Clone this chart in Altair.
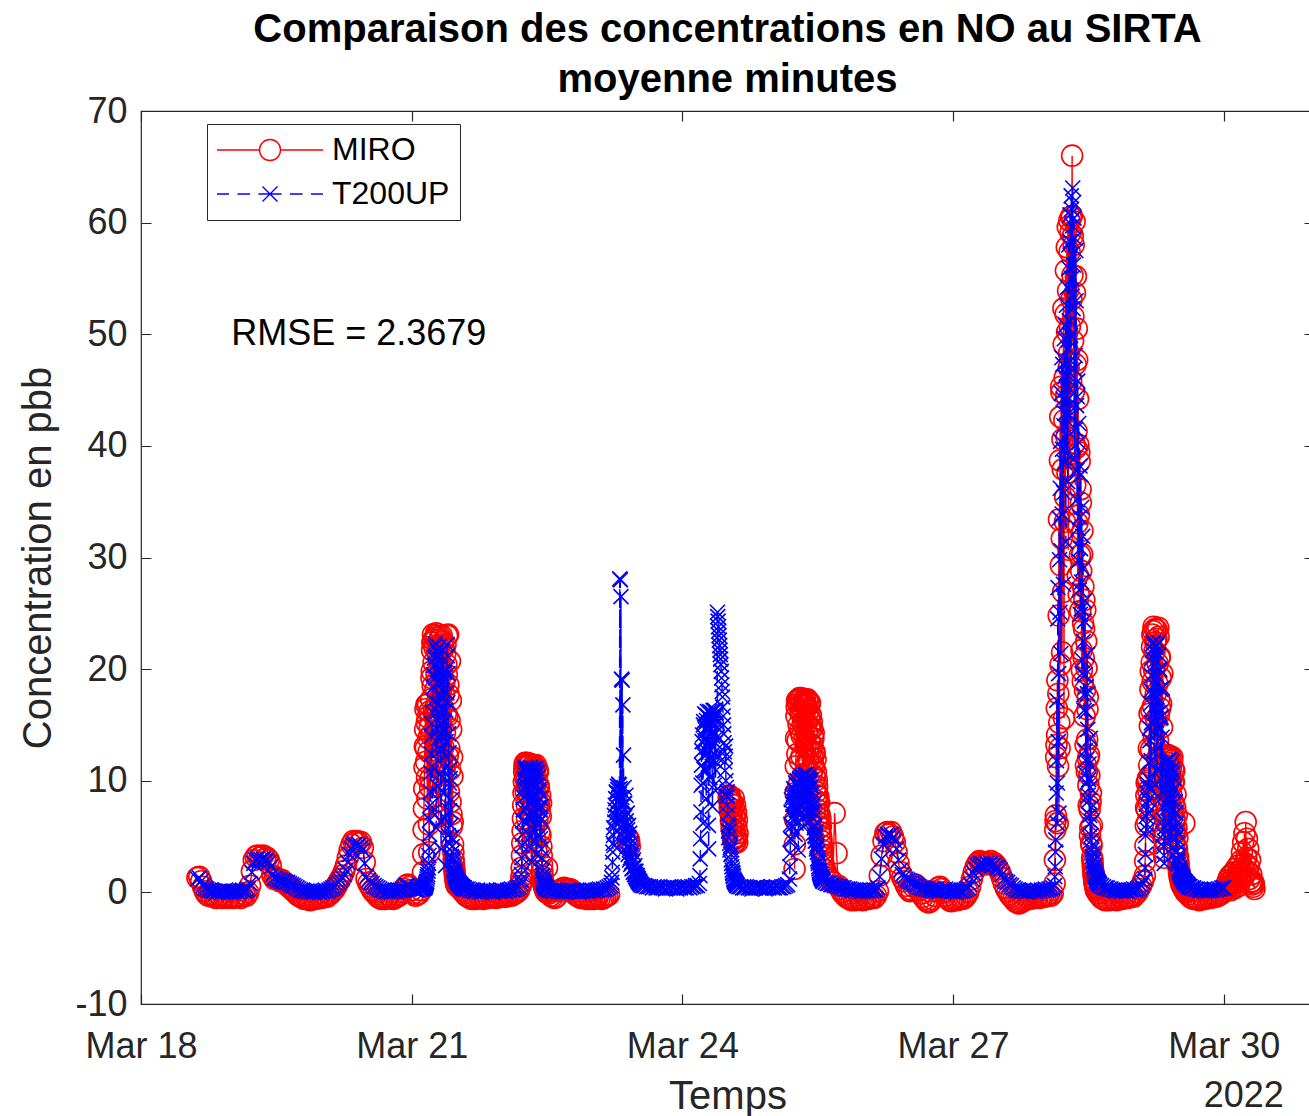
import altair as alt
import pandas as pd

FONT = "Liberation Sans"
GREY = "#262626"
RED = "#FF0000"
BLUE = "#0000FF"

# ---------------------------------------------------------------------------
# T200UP analyser, NO in ppb.  Each block: regular sampling from its start time.
# ---------------------------------------------------------------------------
T200UP_A = [  # from 2022-03-18 15:00, every 30 min
    1.2, 1.3, 1.0, 0.6, 0.4, 0.3,
    0.2, 0.2, 0.1, 0.1, 0.0, 0.1, 0.1, 0.0, 0.1, 0.2,
    0.1, 0.1, 0.0, 0.1, 0.1, 0.1, 0.0, 0.1, 0.2, 0.1,
    0.2, 0.3, 0.8, 1.8, 2.6, 2.9, 3.0, 2.8, 2.9, 3.0,
    2.8, 2.9, 2.7, 2.3, 1.6, 1.3, 1.2, 1.1, 1.1, 1.0,
    1.0, 0.9, 0.9, 0.8, 0.7, 0.6, 0.5, 0.4, 0.3, 0.2,
    0.2, 0.1, 0.1, 0.0, 0.1, 0.0, 0.0, 0.1, 0.1, 0.0,
    0.1, 0.1, 0.2, 0.1, 0.2, 0.3, 0.4, 0.5, 0.7, 0.9,
    1.1, 1.3, 1.6, 2.0, 2.7, 3.4, 3.9, 4.2, 4.3, 4.1,
    4.3, 4.0, 3.8, 2.6, 1.4, 1.1, 0.9, 0.8, 0.6, 0.5,
    0.4, 0.3, 0.2, 0.2, 0.1, 0.1, 0.1, 0.0, 0.1, 0.1,
    0.1, 0.2, 0.2, 0.3, 0.4, 0.6, 0.6, 0.5, 0.4, 0.3,
    0.2, 0.2, 0.3, 0.3,
]
T200UP_MAR21 = [  # from 2022-03-21 03:00, every 10 min
    0.3, 0.4, 0.5, 0.4, 0.6, 0.8,
    1.0, 1.4, 1.9, 2.6, 4.0, 6.5,
    9.0, 12.4, 15.1, 7.2, 17.2, 19.5,
    21.0, 22.3, 20.4, 5.8, 21.6, 16.2,
    13.8, 19.0, 22.0, 17.5, 10.6, 3.9,
    12.8, 16.4, 20.8, 18.9, 15.3, 6.7,
    2.4, 13.5, 17.9, 21.2, 19.6, 14.2,
    9.8, 4.4, 11.1, 8.3, 4.9, 3.6,
    2.8, 2.2, 1.9, 1.6, 1.4, 1.2,
    1.1, 1.0, 0.9, 0.8, 0.8, 0.7,
    0.6, 0.6, 0.5, 0.5, 0.4, 0.4,
]
T200UP_MAR21_B = [  # from 2022-03-21 03:05, every 10 min
    0.4, 0.4, 0.5, 0.5, 0.7, 0.9,
    1.2, 1.6, 2.2, 3.3, 5.2, 7.8,
    10.7, 14.0, 11.3, 16.1, 18.4, 20.3,
    22.0, 19.2, 14.7, 21.1, 18.8, 9.5,
    16.9, 21.4, 20.1, 12.7, 6.4, 15.0,
    18.1, 21.7, 8.9, 14.4, 19.7, 11.2,
    16.3, 20.0, 22.2, 17.0, 5.1, 12.5,
    7.3, 10.2, 6.0, 3.2, 4.1, 3.0,
    2.5, 2.0, 1.8, 1.5, 1.3, 1.1,
    1.0, 1.0, 0.9, 0.8, 0.7, 0.7,
    0.6, 0.5, 0.5, 0.4, 0.4, 0.3,
]
T200UP_B = [  # from 2022-03-21 14:00, every 30 min
    0.4, 0.3, 0.3, 0.2, 0.2, 0.1, 0.1, 0.2, 0.1, 0.0,
    0.1, 0.1, 0.2, 0.1, 0.1, 0.0, 0.1, 0.2, 0.1, 0.1,
    0.2, 0.1, 0.1, 0.2, 0.2, 0.3, 0.2, 0.3, 0.4, 0.5,
]
T200UP_MAR22 = [  # from 2022-03-22 05:00, every 10 min
    0.8, 1.6, 3.1, 5.2, 7.4, 9.3,
    10.6, 11.2, 8.7, 10.1, 6.2, 10.9,
    9.4, 4.1, 11.0, 8.1, 10.5, 7.0,
    2.7, 9.9, 11.1, 5.6, 10.3, 8.8,
    10.8, 3.4, 9.6, 10.7, 7.6, 9.0,
    5.1, 8.4, 6.5, 3.9, 2.3, 1.5,
    1.0, 0.8, 0.6, 0.5, 0.4, 0.3,
]
T200UP_MAR22_B = [  # from 2022-03-22 05:05, every 10 min
    1.1, 2.3, 4.2, 6.4, 8.5, 10.2,
    11.0, 9.6, 10.8, 7.5, 11.1, 8.9,
    10.4, 6.7, 9.8, 11.2, 5.0, 10.0,
    8.3, 11.0, 7.2, 10.6, 4.6, 9.5,
    11.1, 8.0, 6.1, 10.3, 9.2, 7.4,
    6.8, 4.8, 7.7, 3.1, 1.9, 1.2,
    0.9, 0.7, 0.5, 0.5, 0.4, 0.3,
]
T200UP_C = [  # from 2022-03-22 12:00, every 30 min
    0.3, 0.2, 0.2, 0.1, 0.1, 0.2, 0.1, 0.1, 0.0, 0.1,
    0.1, 0.2, 0.1, 0.1, 0.2, 0.1, 0.1, 0.0, 0.1, 0.1,
    0.2, 0.1, 0.1, 0.2, 0.2, 0.1, 0.2, 0.2, 0.3, 0.2,
    0.3, 0.3, 0.4, 0.5, 0.6,
]
T200UP_MAR23 = [  # from 2022-03-23 05:10, every 10 min
    0.9, 1.8, 3.6, 5.1, 4.2, 6.3,
    7.8, 5.5, 8.9, 6.8, 9.2, 7.5,
    9.6, 28.1, 28.0, 26.5, 19.1, 19.0,
    16.8, 12.3, 9.4, 8.0, 6.1, 8.7,
    5.2, 7.1, 4.6, 6.0, 3.8, 5.3,
    3.1, 4.4, 2.7, 3.6, 2.2, 2.9,
    1.9, 2.4, 1.6, 1.9, 1.3, 1.5,
    1.1, 1.2, 0.9, 1.0, 0.8, 0.7,
]
T200UP_MAR23_B = [  # from 2022-03-23 05:15, every 10 min
    1.3, 2.7, 4.4, 5.8, 6.9, 7.4,
    8.4, 9.0, 6.3, 9.5, 8.2, 9.7,
    8.8, 9.3, 7.0, 9.1, 8.5, 7.7,
    6.6, 7.9, 5.6, 6.9, 4.8, 6.4,
    4.1, 5.6, 3.4, 4.9, 2.9, 4.0,
    2.5, 3.3, 2.1, 2.7, 1.8, 2.2,
    1.6, 1.8, 1.4, 1.5, 1.2, 1.3,
    1.0, 1.0, 0.9, 0.8, 0.7, 0.7,
]
T200UP_D = [  # from 2022-03-23 13:30, every 30 min
    0.6, 0.6, 0.5, 0.5, 0.5, 0.4, 0.5, 0.4, 0.4, 0.5,
    0.4, 0.4, 0.3, 0.4, 0.4, 0.5, 0.4, 0.4, 0.3, 0.4,
    0.4, 0.5, 0.4, 0.4, 0.5, 0.4, 0.5, 0.5, 0.6, 0.6,
    0.8,
]
T200UP_MAR24 = [  # from 2022-03-24 04:40, every 10 min
    1.5, 4.8, 9.6, 12.7, 14.1, 6.2,
    15.3, 11.0, 13.6, 15.9, 8.4, 14.8,
    16.2, 12.5, 3.9, 15.6, 10.3, 16.0,
    13.2, 15.1, 7.7, 16.3, 14.4, 11.8,
    15.7, 9.1, 16.1, 13.9, 25.1, 24.3,
    23.4, 22.6, 21.7, 20.9, 19.8, 18.6,
    17.5, 15.8, 14.2, 12.6, 10.9, 13.1,
    9.4, 7.8, 8.6, 6.1, 4.9, 5.5,
    3.8, 4.2, 2.9, 2.3, 1.8, 1.5,
    1.2, 1.0, 0.9, 0.8, 0.7, 0.6,
]
T200UP_MAR24_B = [  # from 2022-03-24 04:45, every 10 min
    3.0, 7.2, 11.4, 13.5, 9.8, 15.0,
    12.3, 16.0, 14.6, 10.9, 15.4, 13.0,
    15.8, 6.0, 14.9, 16.2, 12.0, 15.5,
    16.1, 11.3, 14.0, 15.7, 9.6, 16.3,
    13.4, 16.0, 12.2, 15.2, 24.7, 23.8,
    23.0, 22.1, 21.3, 20.4, 19.2, 18.0,
    16.6, 15.0, 13.4, 11.7, 12.2, 10.0,
    8.6, 9.0, 7.0, 5.5, 5.9, 4.4,
    4.0, 3.4, 2.6, 2.0, 1.7, 1.4,
    1.1, 1.0, 0.9, 0.8, 0.7, 0.6,
]
T200UP_E = [  # from 2022-03-24 15:00, every 30 min
    0.5, 0.5, 0.4, 0.4, 0.5, 0.4, 0.4, 0.3, 0.4, 0.4,
    0.5, 0.4, 0.4, 0.4, 0.3, 0.4, 0.4, 0.5, 0.4, 0.4,
    0.5, 0.4, 0.4, 0.5, 0.5, 0.6, 0.7,
]
T200UP_MAR25 = [  # from 2022-03-25 04:30, every 10 min
    1.2, 3.5, 6.1, 8.3, 4.7, 7.9,
    8.8, 6.6, 9.1, 5.2, 8.5, 9.6,
    7.3, 9.9, 3.8, 8.9, 10.1, 6.9,
    9.4, 10.3, 7.8, 10.4, 5.9, 9.8,
    10.5, 8.2, 10.2, 10.6, 7.1, 10.3,
    9.3, 10.4, 6.4, 10.1, 8.7, 9.5,
    7.7, 8.9, 5.3, 7.2, 6.0, 4.6,
    5.4, 3.9, 4.3, 3.0, 2.6, 2.1,
    1.8, 1.6, 1.4, 1.3, 1.2, 1.1,
]
T200UP_MAR25_B = [  # from 2022-03-25 04:35, every 10 min
    2.3, 4.8, 7.2, 5.9, 8.6, 6.8,
    9.3, 7.9, 8.2, 9.8, 6.2, 9.0,
    10.0, 8.1, 9.6, 7.4, 10.2, 9.2,
    8.4, 10.4, 9.9, 6.6, 10.3, 8.6,
    9.7, 10.5, 7.5, 9.4, 10.1, 8.9,
    10.2, 7.0, 9.8, 8.0, 10.0, 7.3,
    8.3, 6.6, 7.9, 5.8, 5.1, 5.0,
    4.6, 4.1, 3.6, 2.8, 2.3, 1.9,
    1.7, 1.5, 1.3, 1.2, 1.1, 1.0,
]
T200UP_F = [  # from 2022-03-25 13:30, every 30 min
    1.0, 0.9, 0.8, 0.8, 0.7, 0.7, 0.6, 0.6, 0.5, 0.5,
    0.4, 0.4, 0.3, 0.3, 0.3, 0.2, 0.2, 0.2, 0.1, 0.2,
    0.1, 0.1, 0.2, 0.1, 0.1, 0.2, 0.1, 0.2, 0.2, 0.4,
    1.4, 3.0, 4.3, 5.0, 5.2, 5.1, 5.2, 4.9, 4.6, 3.9,
    2.9, 2.0, 1.6, 1.4, 1.2, 1.1, 1.0, 0.9, 0.8, 0.7,
    0.6, 0.5, 0.4, 0.4, 0.3, 0.3, 0.2, 0.2, 0.2, 0.1,
    0.2, 0.1, 0.1, 0.2, 0.2, 0.3, 0.2, 0.2, 0.1, 0.1,
    0.1, 0.0, 0.1, 0.1, 0.1, 0.2, 0.3, 0.4, 0.7, 1.2,
    1.7, 2.1, 2.4, 2.5, 2.6, 2.5, 2.4, 2.6, 2.5, 2.6,
    2.4, 2.5, 2.3, 2.2, 2.0, 1.6, 1.2, 1.0, 0.9, 0.7,
    0.6, 0.4, 0.3, 0.2, 0.2, 0.1, 0.1, 0.1, 0.0, 0.1,
    0.1, 0.2, 0.1, 0.1, 0.2, 0.1, 0.2, 0.2, 0.3, 0.2,
    0.3, 0.3, 0.4,
]
T200UP_MAR28 = [  # from 2022-03-28 03:00, every 10 min
    0.6, 2.3, 4.7, 11.8, 6.2, 24.5,
    13.5, 7.1, 29.8, 36.2, 21.4, 44.7,
    33.9, 47.3, 27.6, 41.8, 38.5, 46.2,
    31.4, 52.6, 44.1, 36.8, 49.5, 55.9,
    42.7, 58.3, 47.6, 61.2, 53.4, 63.1,
    56.2, 60.4, 38.9, 48.1, 57.5, 43.6,
    35.2, 45.8, 29.7, 40.3, 33.6, 24.9,
    37.4, 27.8, 19.6, 31.9, 22.5, 16.3,
    26.1, 12.7, 18.4, 9.8, 21.3, 14.6,
    8.2, 11.5, 6.9, 13.8, 5.1, 7.6,
    4.2, 3.5, 2.9, 2.4, 2.0, 1.7,
    1.5, 1.3, 1.2, 1.0, 0.9, 0.8,
]
T200UP_MAR28_B = [  # from 2022-03-28 03:05, every 10 min
    1.4, 3.6, 8.9, 17.2, 9.8, 27.3,
    19.6, 33.5, 25.1, 40.4, 30.6, 47.9,
    39.7, 44.2, 35.8, 49.6, 42.9, 50.8,
    46.5, 39.3, 54.2, 48.7, 58.0, 51.2,
    60.7, 49.9, 62.4, 55.0, 59.7, 52.3,
    61.8, 46.9, 58.6, 41.5, 53.0, 37.8,
    44.4, 32.6, 42.0, 27.1, 38.2, 30.8,
    25.4, 34.5, 20.8, 29.0, 17.7, 24.3,
    19.5, 10.6, 16.2, 11.9, 17.8, 8.7,
    10.1, 6.1, 9.4, 4.6, 6.3, 3.8,
    3.2, 2.7, 2.2, 1.9, 1.6, 1.4,
    1.2, 1.1, 1.0, 0.9, 0.8, 0.7,
]
T200UP_G = [  # from 2022-03-28 15:00, every 30 min
    0.7, 0.6, 0.5, 0.4, 0.4, 0.3, 0.3, 0.2, 0.2, 0.1,
    0.2, 0.1, 0.1, 0.2, 0.1, 0.1, 0.2, 0.2, 0.3, 0.2,
    0.3, 0.4, 0.6, 0.9,
]
T200UP_MAR29 = [  # from 2022-03-29 03:00, every 10 min
    1.2, 3.4, 6.8, 8.9, 5.6, 9.4,
    7.2, 10.1, 13.6, 16.9, 11.8, 19.4,
    21.7, 15.3, 22.4, 18.6, 9.7, 20.8,
    14.2, 22.1, 17.5, 12.9, 21.3, 16.1,
    19.9, 8.4, 15.7, 11.2, 18.3, 6.5,
    4.1, 2.6, 5.8, 9.3, 11.6, 7.9,
    10.8, 11.9, 6.3, 9.9, 11.4, 8.6,
    10.5, 4.9, 11.7, 9.1, 7.4, 10.2,
    5.7, 8.1, 3.6, 6.2, 4.4, 2.8,
    3.3, 2.2, 1.9, 1.7, 1.5, 1.4,
    1.3, 1.2, 1.1, 1.0, 0.9, 0.9,
    0.8, 0.7, 0.7, 0.6, 0.5, 0.5,
]
T200UP_MAR29_B = [  # from 2022-03-29 03:05, every 10 min
    2.2, 5.1, 7.9, 6.1, 9.7, 8.3,
    11.6, 14.7, 9.3, 18.1, 15.2, 21.0,
    17.9, 22.3, 12.6, 20.4, 22.0, 16.8,
    21.5, 11.0, 19.3, 22.4, 14.8, 20.0,
    15.6, 18.2, 10.1, 13.9, 9.0, 5.2,
    3.3, 4.6, 7.4, 10.6, 9.0, 11.8,
    8.1, 11.2, 10.0, 7.5, 11.9, 9.6,
    8.2, 11.0, 6.8, 10.7, 9.3, 6.0,
    7.1, 4.9, 5.4, 3.7, 3.0, 2.5,
    2.0, 1.8, 1.6, 1.5, 1.4, 1.3,
    1.2, 1.1, 1.0, 1.0, 0.9, 0.8,
    0.8, 0.7, 0.6, 0.6, 0.5, 0.5,
]
T200UP_H = [  # from 2022-03-29 15:00, every 30 min
    0.5, 0.4, 0.4, 0.3, 0.3, 0.2, 0.2, 0.2, 0.1, 0.2,
    0.1, 0.2, 0.2, 0.3, 0.2, 0.3, 0.3, 0.4, 0.4,
]

# ---------------------------------------------------------------------------
# MIRO analyser, NO in ppb.
# ---------------------------------------------------------------------------
MIRO_A = [  # from 2022-03-18 15:00, every 30 min
    1.3, 1.4, 1.0, 0.5, 0.1, -0.2,
    -0.3, -0.2, -0.4, -0.3, -0.5, -0.4, -0.3, -0.5, -0.4, -0.3,
    -0.5, -0.4, -0.3, -0.5, -0.4, -0.3, -0.4, -0.5, -0.3, -0.2,
    -0.3, 0.0, 0.6, 1.9, 2.9, 3.2, 3.3, 3.1, 3.2, 3.3,
    3.0, 3.1, 2.9, 2.4, 1.5, 1.2, 1.3, 1.2, 1.0, 1.1,
    0.9, 0.8, 0.6, 0.5, 0.3, 0.2, 0.0, -0.2, -0.3, -0.4,
    -0.5, -0.6, -0.5, -0.6, -0.7, -0.6, -0.5, -0.6, -0.5, -0.4,
    -0.5, -0.4, -0.3, -0.4, -0.2, -0.1, 0.1, 0.3, 0.6, 0.9,
    1.2, 1.5, 1.9, 2.4, 3.1, 3.8, 4.3, 4.6, 4.5, 4.6,
    4.4, 4.5, 4.0, 2.7, 1.2, 0.8, 0.5, 0.2, 0.0, -0.2,
    -0.4, -0.5, -0.6, -0.5, -0.6, -0.5, -0.4, -0.5, -0.6, -0.5,
    -0.4, -0.3, -0.2, 0.0, 0.3, 0.6, 0.7, 0.5, 0.2, -0.1,
    -0.3, -0.2, -0.1, 0.2,
]
MIRO_MAR21 = [  # from 2022-03-21 03:00, every 10 min
    1.8, 5.6, 9.3, 13.1, 16.4, 11.7,
    15.2, 8.4, 16.9, 12.6, 3.6, 14.8,
    10.2, 17.3, 19.8, 22.4, 23.1, 20.6,
    15.9, 22.8, 18.2, 23.2, 13.4, 21.5,
    19.1, 6.8, 22.6, 17.4, 12.1, 20.3,
    23.0, 16.6, 9.7, 21.9, 18.8, 14.3,
    22.2, 11.6, 19.5, 15.8, 23.1, 17.7,
    12.9, 20.7, 8.1, 14.6, 5.9, 10.4,
    4.3, 2.9, 2.1, 1.5, 1.1, 0.8,
]
MIRO_MAR21_B = [  # from 2022-03-21 03:05, every 10 min
    3.4, 7.5, 11.2, 14.6, 12.9, 16.8,
    10.3, 15.7, 13.8, 6.1, 16.2, 9.4,
    14.1, 19.2, 21.7, 18.5, 22.6, 16.3,
    21.9, 12.4, 23.0, 19.6, 17.1, 22.1,
    8.2, 20.8, 15.3, 22.9, 18.0, 14.9,
    19.7, 22.5, 13.0, 17.8, 10.9, 21.3,
    16.0, 20.4, 23.0, 12.2, 18.6, 9.0,
    15.4, 11.0, 17.2, 7.0, 12.1, 6.3,
    3.6, 2.5, 1.8, 1.3, 0.9, 0.7,
]
MIRO_B = [  # from 2022-03-21 12:00, every 30 min
    0.6, 0.5, 0.3, 0.1, -0.1, -0.3, -0.4, -0.5, -0.6, -0.5,
    -0.6, -0.5, -0.4, -0.5, -0.6, -0.5, -0.4, -0.5, -0.4, -0.3,
    -0.4, -0.5, -0.4, -0.3, -0.4, -0.3, -0.4, -0.3, -0.2, -0.3,
    -0.2, -0.1, 0.0, 0.2,
]
MIRO_MAR22 = [  # from 2022-03-22 05:00, every 10 min
    0.6, 1.4, 3.3, 5.5, 7.8, 9.9,
    11.2, 11.6, 9.0, 10.5, 6.6, 11.3,
    9.8, 4.5, 11.5, 8.4, 10.9, 7.3,
    2.9, 10.2, 11.4, 5.9, 10.7, 9.1,
    11.2, 3.7, 9.9, 11.0, 7.9, 9.4,
    5.4, 8.7, 6.8, 4.1, 2.5, 1.4,
    0.9, 0.6, 0.4, 0.3, 0.1, 0.0,
]
MIRO_MAR22_B = [  # from 2022-03-22 05:05, every 10 min
    0.9, 2.2, 4.4, 6.6, 8.9, 10.8,
    11.5, 10.2, 11.4, 7.9, 11.6, 9.5,
    10.9, 7.1, 10.3, 11.5, 5.5, 10.6,
    8.8, 11.3, 7.7, 11.1, 4.9, 9.9,
    11.4, 8.4, 6.5, 10.8, 9.6, 7.8,
    7.2, 5.1, 8.0, 3.3, 1.9, 1.0,
    0.7, 0.5, 0.3, 0.2, 0.1, 0.0,
]
MIRO_C = [  # from 2022-03-22 12:00, every 30 min
    2.2, -0.1, -0.3, -0.4, -0.5, -0.4, 0.1, 0.2, 0.3, 0.4,
    0.3, 0.2, 0.3, 0.2, 0.0, -0.2, -0.3, -0.4, -0.5, -0.4,
    -0.5, -0.6, -0.5, -0.6, -0.5, -0.6, -0.5, -0.4, -0.5, -0.6,
    -0.5, -0.4, -0.3, -0.2,
]
MIRO_MAR23 = [4.4, 4.8, 4.6, 4.1]  # from 2022-03-23 09:30, every 10 min
MIRO_MAR24 = [  # from 2022-03-24 12:20, every 5 min
    8.5, 8.7, 8.2, 7.6, 8.6, 7.1,
    8.3, 6.4, 7.9, 5.8, 8.1, 6.9,
    5.2, 7.4, 4.7, 6.2, 8.4, 5.5,
    4.4, 6.7, 7.8, 5.0, 4.6, 7.2,
    5.9, 4.9, 6.5, 4.5, 5.3,
]
MIRO_MAR25 = [  # from 2022-03-25 05:50, every 10 min
    2.1,
    6.5, 11.3, 15.8, 17.2, 13.6, 16.9,
    9.7, 17.4, 14.5, 16.3, 12.2, 17.0,
    15.1, 8.3, 16.8, 13.9, 17.3, 11.4,
    16.5, 14.2, 17.1, 12.8, 15.6, 16.9,
    13.3, 15.9, 10.6, 14.7, 12.0, 13.8,
    11.2, 12.6, 9.4, 10.8, 8.2, 9.5,
    7.4, 8.6, 6.3, 7.0, 5.4, 5.9,
    4.6, 3.8, 3.1,
]
MIRO_MAR25_B = [  # from 2022-03-25 05:55, every 10 min
    4.3,
    8.9, 13.8, 16.6, 12.4, 17.1, 15.0,
    17.3, 11.8, 16.1, 17.4, 14.0, 16.4,
    10.5, 17.2, 15.4, 17.0, 13.1, 16.7,
    15.2, 17.3, 11.9, 16.3, 14.8, 17.0,
    14.6, 12.7, 15.3, 13.2, 11.5, 14.3,
    12.4, 10.3, 11.9, 9.0, 10.1, 8.7,
    7.9, 6.7, 8.0, 5.8, 6.6, 5.0,
    4.2, 3.4, 2.8,
]
MIRO_D = [  # from 2022-03-25 13:30, every 30 min
    2.5, 2.0, 1.6, 1.3, 1.1, 0.9, 7.1, 3.5, 0.6, 0.3,
    0.0, -0.2, -0.4, -0.5, -0.6, -0.7, -0.6, -0.7, -0.6, -0.5,
    -0.6, -0.7, -0.6, -0.5, -0.6, -0.5, -0.4, -0.5, -0.3, 0.1,
    1.5, 3.3, 4.6, 5.3, 5.4, 5.2, 5.4, 5.0, 4.5, 3.6,
    2.6, 1.8, 1.3, 1.0, 0.6, 0.3, 0.1, 0.2, 0.5, 0.7,
    0.5, 0.2, -0.1, -0.4, -0.6, -0.8, -0.9, -0.8, -0.6, -0.3,
    0.1, 0.4, 0.5, 0.3, 0.0, -0.3, -0.5, -0.7, -0.8, -0.7,
    -0.6, -0.7, -0.6, -0.5, -0.6, -0.5, -0.3, 0.0, 0.5, 1.2,
    1.8, 2.3, 2.6, 2.8, 2.7, 2.6, 2.5, 2.7, 2.6, 2.8,
    2.5, 2.6, 2.4, 2.1, 1.8, 1.3, 0.8, 0.4, 0.1, -0.2,
    -0.4, -0.6, -0.8, -0.9, -1.0, -0.9, -0.8, -0.7, -0.6, -0.5,
    -0.6, -0.5, -0.4, -0.5, -0.4, -0.5, -0.4, -0.3, -0.4, -0.3,
    -0.2, -0.3, -0.1,
]
MIRO_MAR28 = [  # from 2022-03-28 03:00, every 10 min
    0.8, 5.6, 6.9, 13.2, 14.1, 6.2,
    17.8, 33.4, 12.9, 42.6, 29.3, 44.8,
    21.5, 37.9, 52.3, 15.6, 46.1, 35.4,
    55.7, 40.8, 50.2, 59.6, 30.7, 48.3,
    57.4, 39.2, 60.5, 53.1, 66.0, 58.8,
    51.6, 44.9, 60.1, 36.5, 55.2, 41.3,
    47.7, 28.4, 40.1, 33.8, 38.6, 25.2,
    34.9, 21.7, 30.3, 18.9, 27.4, 23.6,
    15.8, 25.3, 11.4, 20.1, 13.7, 17.5,
    9.6, 12.3, 7.4, 5.8, 8.9, 4.2,
    3.1, 2.4, 1.7, 1.2, 0.8, 0.5,
]
MIRO_MAR28_B = [  # from 2022-03-28 03:05, every 10 min
    2.9, 6.4, 12.1, 16.5, 19.0, 11.3,
    24.8, 15.2, 38.7, 20.4, 45.3, 31.7,
    40.6, 26.9, 49.1, 42.3, 33.2, 51.8,
    44.5, 57.8, 37.6, 53.9, 47.0, 60.2,
    50.7, 59.1, 45.8, 60.6, 55.3, 49.4,
    58.0, 40.2, 53.7, 47.3, 39.8, 50.5,
    33.1, 44.2, 26.7, 39.4, 30.2, 36.1,
    28.8, 19.9, 32.4, 24.1, 21.0, 26.2,
    18.1, 13.2, 22.5, 10.8, 16.4, 12.0,
    7.8, 10.5, 5.1, 8.1, 4.4, 6.0,
    2.8, 2.0, 1.5, 1.0, 0.7, 0.4,
]
MIRO_E = [  # from 2022-03-28 14:00, every 30 min
    0.2, -0.1, -0.3, -0.5, -0.6, -0.7, -0.6, -0.7, -0.6, -0.5,
    -0.6, -0.7, -0.6, -0.5, -0.6, -0.5, -0.4, -0.5, -0.4, -0.3,
    -0.4, -0.2, 0.0, 0.3, 0.6, 1.0,
]
MIRO_MAR29 = [  # from 2022-03-29 03:00, every 10 min
    1.5, 4.2, 7.6, 9.8, 6.3, 10.2,
    8.1, 11.4, 14.9, 18.2, 12.8, 20.6,
    23.1, 16.7, 23.8, 19.9, 10.8, 22.4,
    15.5, 23.5, 18.7, 13.6, 22.9, 17.3,
    21.1, 9.2, 16.9, 12.4, 19.6, 7.3,
    4.8, 3.1, 6.6, 10.2, 12.2, 8.7,
    11.6, 12.3, 7.1, 10.7, 12.0, 9.4,
    11.3, 5.6, 12.1, 9.8, 8.0, 10.9,
    6.3, 8.8, 4.1, 6.9, 4.9, 3.2,
    2.6, 2.0, 1.6, 1.3, 1.0, 0.8,
    0.7, 0.5, 0.6, 6.2, 0.4, 0.2,
]
MIRO_MAR29_B = [  # from 2022-03-29 03:05, every 10 min
    2.8, 6.0, 8.7, 7.4, 10.0, 9.1,
    12.9, 16.0, 10.5, 19.8, 16.3, 22.0,
    18.9, 23.4, 13.9, 21.6, 23.6, 17.8,
    22.7, 12.0, 20.5, 23.7, 15.9, 21.0,
    16.5, 19.2, 11.0, 14.8, 9.9, 5.7,
    3.8, 5.2, 8.2, 11.4, 9.6, 12.3,
    8.9, 11.9, 10.6, 8.2, 12.2, 10.1,
    8.7, 11.8, 7.4, 11.1, 9.9, 6.6,
    7.6, 5.3, 5.8, 3.9, 3.1, 2.3,
    1.8, 1.4, 1.2, 0.9, 0.7, 0.6,
    0.5, 0.4, 0.3, 0.2, 0.1, 0.0,
]
MIRO_F = [  # from 2022-03-29 14:00, every 30 min
    0.0, -0.2, -0.4, -0.5, -0.6, -0.5, -0.6, -0.7, -0.6, -0.5,
    -0.6, -0.5, -0.4, -0.5, -0.4, -0.3, -0.4, -0.3, -0.2, -0.1,
    0.1, 0.3,
]
MIRO_MAR30 = [  # from 2022-03-30 00:40, every 10 min
    0.4, 0.8, 0.3, 1.1, 0.6, 1.4,
    0.9, 0.2, 1.6, 0.7, 1.2, 0.5,
    1.8, 1.0, 0.4, 2.1, 1.3, 0.8,
    1.5, 2.4, 0.6, 1.9, 1.1, 2.8,
    1.7, 3.6, 2.2, 4.5, 1.4, 5.3,
    2.6, 6.3, 3.1, 4.8, 1.9, 3.9,
    2.3, 1.2, 2.9, 0.9, 1.6, 0.7,
    1.0, 0.5, 0.8, 0.3,
]

# (run id, first timestamp, step in minutes, values); a new run id breaks the line
T200UP_BLOCKS = [
    (1, "2022-03-18 15:00", 30, T200UP_A),
    (1, "2022-03-21 03:00", 10, T200UP_MAR21),
    (1, "2022-03-21 03:05", 10, T200UP_MAR21_B),
    (1, "2022-03-21 14:00", 30, T200UP_B),
    (1, "2022-03-22 05:00", 10, T200UP_MAR22),
    (1, "2022-03-22 05:05", 10, T200UP_MAR22_B),
    (1, "2022-03-22 12:00", 30, T200UP_C),
    (1, "2022-03-23 05:10", 10, T200UP_MAR23),
    (1, "2022-03-23 05:15", 10, T200UP_MAR23_B),
    (1, "2022-03-23 13:30", 30, T200UP_D),
    (1, "2022-03-24 04:40", 10, T200UP_MAR24),
    (1, "2022-03-24 04:45", 10, T200UP_MAR24_B),
    (1, "2022-03-24 15:00", 30, T200UP_E),
    (1, "2022-03-25 04:30", 10, T200UP_MAR25),
    (1, "2022-03-25 04:35", 10, T200UP_MAR25_B),
    (1, "2022-03-25 13:30", 30, T200UP_F),
    (1, "2022-03-28 03:00", 10, T200UP_MAR28),
    (1, "2022-03-28 03:05", 10, T200UP_MAR28_B),
    (1, "2022-03-28 15:00", 30, T200UP_G),
    (1, "2022-03-29 03:00", 10, T200UP_MAR29),
    (1, "2022-03-29 03:05", 10, T200UP_MAR29_B),
    (1, "2022-03-29 15:00", 30, T200UP_H),
]
MIRO_BLOCKS = [
    (1, "2022-03-18 15:00", 30, MIRO_A),
    (1, "2022-03-21 03:00", 10, MIRO_MAR21),
    (1, "2022-03-21 03:05", 10, MIRO_MAR21_B),
    (1, "2022-03-21 12:00", 30, MIRO_B),
    (1, "2022-03-22 05:00", 10, MIRO_MAR22),
    (1, "2022-03-22 05:05", 10, MIRO_MAR22_B),
    (1, "2022-03-22 12:00", 30, MIRO_C),
    (2, "2022-03-23 09:30", 10, MIRO_MAR23),
    (3, "2022-03-24 12:20", 5, MIRO_MAR24),
    (4, "2022-03-25 05:50", 10, MIRO_MAR25),
    (4, "2022-03-25 05:55", 10, MIRO_MAR25_B),
    (4, "2022-03-25 13:30", 30, MIRO_D),
    (4, "2022-03-28 03:00", 10, MIRO_MAR28),
    (4, "2022-03-28 03:05", 10, MIRO_MAR28_B),
    (4, "2022-03-28 14:00", 30, MIRO_E),
    (4, "2022-03-29 03:00", 10, MIRO_MAR29),
    (4, "2022-03-29 03:05", 10, MIRO_MAR29_B),
    (4, "2022-03-29 14:00", 30, MIRO_F),
    (4, "2022-03-30 00:40", 10, MIRO_MAR30),
]

SERIES = ["MIRO", "T200UP"]
RMSE = 2.3679


def expand(name, blocks):
    rows = []
    for run, first, step, values in blocks:
        t0 = pd.Timestamp(first)
        for i, v in enumerate(values):
            t = t0 + pd.Timedelta(minutes=step * i)
            rows.append({"t": t.strftime("%Y-%m-%dT%H:%M:%S"), "v": v,
                         "series": name, "run": f"{name}-{run}"})
    return rows


df = pd.DataFrame(expand("MIRO", MIRO_BLOCKS) + expand("T200UP", T200UP_BLOCKS))
df = df.sort_values(["series", "t"]).reset_index(drop=True)

W, H = 1173, 893

x_enc = alt.X(
    "t:T",
    scale=alt.Scale(domain=[alt.DateTime(year=2022, month=3, date=18),
                            alt.DateTime(year=2022, month=3, date=31)], nice=False),
    axis=alt.Axis(
        values=[alt.DateTime(year=2022, month=3, date=d) for d in (18, 21, 24, 27, 30)],
        format="%b %d", labelFlush=False, labelOverlap=False,
        labelFont=FONT, labelFontSize=36, labelColor=GREY, labelPadding=25,
        ticks=False, tickSize=0, domain=False,
        grid=True, gridColor=GREY, gridOpacity=1, gridWidth=1.2,
        gridDash=[10, H - 20, 10, 4000],
        title="Temps", titleFont=FONT, titleFontSize=40, titleFontWeight="normal",
        titleColor=GREY, titlePadding=12,
    ),
)
y_enc = alt.Y(
    "v:Q",
    scale=alt.Scale(domain=[-10, 70], nice=False, zero=False),
    axis=alt.Axis(
        values=list(range(-10, 71, 10)), labelExpr="'' + datum.value",
        labelFont=FONT, labelFontSize=36, labelColor=GREY, labelPadding=14,
        ticks=False, tickSize=0, domain=False,
        grid=True, gridColor=GREY, gridOpacity=1, gridWidth=1.2,
        gridDash=[10, W - 20, 10, 4000],
        title="Concentration en pbb", titleFont=FONT, titleFontSize=40,
        titleFontWeight="normal", titleColor=GREY, titlePadding=16,
    ),
)

base = alt.Chart(df)
miro = base.transform_filter(alt.datum.series == "MIRO")
t200 = base.transform_filter(alt.datum.series == "T200UP")

X_PATH = "M-1,-1L1,1M-1,1L1,-1"
LW = 1.4
MW = 1.6

miro_line = miro.mark_line(color=RED, strokeWidth=LW).encode(x=x_enc, y=y_enc, detail="run:N")
miro_pts = miro.mark_point(shape="circle", filled=False, size=441, color=RED,
                           strokeWidth=MW, opacity=1).encode(x=x_enc, y=y_enc)
t200_line = t200.mark_line(color=BLUE, strokeWidth=LW, strokeDash=[12, 8]).encode(
    x=x_enc, y=y_enc, detail="run:N")
t200_pts = t200.mark_point(shape=X_PATH, filled=False, size=225, color=BLUE,
                           strokeWidth=MW, opacity=1).encode(x=x_enc, y=y_enc)

# legend keys: line with its marker, in units of the marker radius
MIRO_KEY = "M-5.05,0L-1,0M1,0L5.05,0M1,0A1,1 0 1,1 -1,0A1,1 0 1,1 1,0"
T200_KEY = ("M-5.05,0L-3.9,0M-3.1,0L-1.9,0M-1.1,0L1.1,0M1.9,0L3.1,0M3.9,0L5.05,0"
            "M-0.714,-0.714L0.714,0.714M-0.714,0.714L0.714,-0.714")
legend = alt.Legend(
    title=None, orient="none", legendX=66, legendY=13, direction="vertical",
    fillColor="white", strokeColor=GREY, padding=10,
    labelFont=FONT, labelFontSize=32, labelColor="black",
    symbolSize=441, symbolStrokeWidth=LW, symbolOffset=37, labelOffset=46,
    rowPadding=12,
)
legend_layer = base.transform_filter("false").mark_point(filled=False, strokeWidth=LW, opacity=1).encode(
    color=alt.Color("series:N", scale=alt.Scale(domain=SERIES, range=[RED, BLUE]), legend=legend),
    shape=alt.Shape("series:N", scale=alt.Scale(domain=SERIES, range=[MIRO_KEY, T200_KEY]), legend=legend),
)

rmse_df = pd.DataFrame({"t": ["2022-03-19T00:00:00"], "v": [50.0],
                        "label": [f"RMSE = {RMSE}"]})
rmse_text = alt.Chart(rmse_df).mark_text(
    align="left", baseline="middle", font=FONT, fontSize=36, color="black"
).encode(x=x_enc, y=y_enc, text="label:N")

year_df = pd.DataFrame({"t": ["2022-03-30T00:00:00"], "label": ["2022"]})
year_text = alt.Chart(year_df).mark_text(
    align="right", baseline="alphabetic", font=FONT, fontSize=36, color=GREY, dx=60
).encode(x=x_enc, y=alt.value(H + 103), text="label:N")

chart = alt.layer(
    miro_line, miro_pts, t200_line, t200_pts, legend_layer, rmse_text, year_text
).properties(
    width=W, height=H,
    autosize=alt.AutoSizeParams(type="none"),
    padding={"left": 141, "top": 111, "right": 1309 - 141 - W, "bottom": 1116 - 111 - H},
    title=alt.TitleParams(
        text=["Comparaison des concentrations en NO au SIRTA", "moyenne minutes"],
        font=FONT, fontSize=40, fontWeight="bold", color="black",
        anchor="middle", lineHeight=50, offset=-7,
    ),
).configure_view(stroke=GREY, strokeWidth=1.2)

chart.save("out.html", embed_options={"renderer": "svg", "actions": False})
